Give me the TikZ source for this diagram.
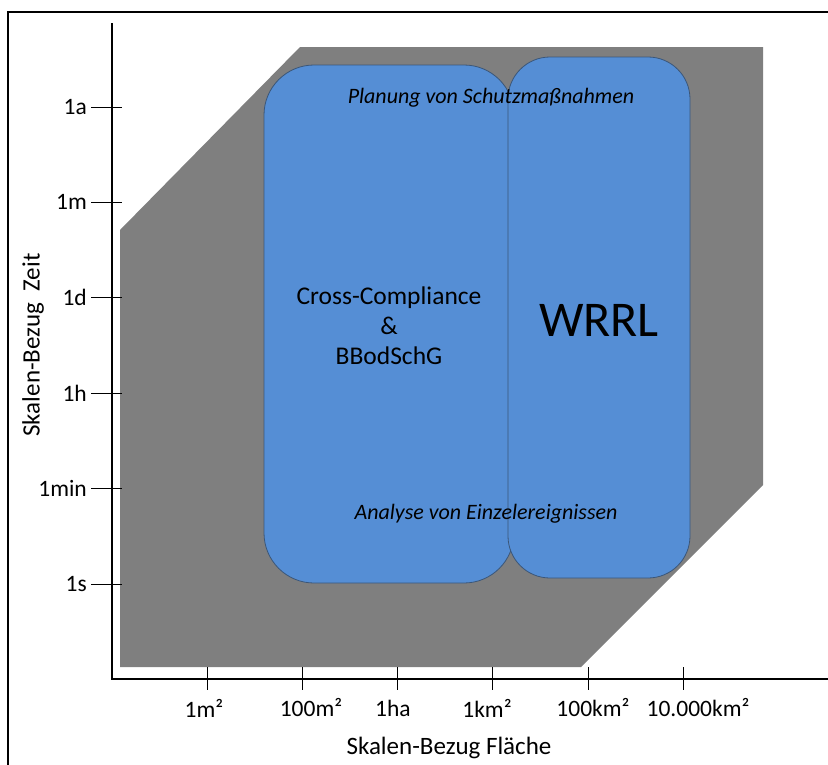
\documentclass[tikz,border=0pt]{standalone}
\usepackage{fontspec}
\setmainfont{Carlito}
\usetikzlibrary{positioning}
\definecolor{areagray}{HTML}{7F7F7F}
\definecolor{lawblue}{HTML}{558ED5}
\definecolor{lawedge}{HTML}{3B5678}
\tikzset{
axis/.style={line width=1.8pt},
axistick/.style={line width=1pt},
ticklabel/.style={font=\fontsize{23.5}{28}\selectfont, inner sep=0pt},
axislabel/.style={font=\fontsize{25}{30}\selectfont, inner sep=0pt},
law/.style={draw=lawedge, line width=0.8pt, fill=lawblue, inner sep=0pt},
scopelabel/.style={font=\fontsize{22}{26}\selectfont\itshape, inner sep=0pt},
}

\begin{document}
\begin{tikzpicture}[x=1pt,y=-1pt]
    \useasboundingbox (0,0) rectangle (828,764);
    % frame
    \draw[line width=1.6pt] (840,12) -- (8,12) -- (8,780);

    % grey range of scales
    \fill[areagray] (120,230) -- (300,47) -- (763,47) -- (763,485) -- (581,667) -- (120,667) -- cycle;

    % the two instruments
    \node[law, rounded corners=50pt, minimum width=250pt, minimum height=518pt] (cc) at (389,324) {};
    \node[law, rounded corners=42pt, minimum width=182pt, minimum height=521pt] (wrrl) at (599,317.5) {};

    \node[align=center, font=\fontsize{25.5}{30}\selectfont] (cctext) at (389,326) {Cross-Compliance\\\&\\BBodSchG};
    \node[font=\fontsize{50}{56}\selectfont] (wrrltext) at (599,320) {WRRL};
    \node[scopelabel] (plan) at (491,98) {Planung von Schutzmaßnahmen};
    \node[scopelabel] (analyse) at (486,514) {Analyse von Einzelereignissen};

    % axes
    \coordinate (origin) at (112,679);
    \coordinate (ytop) at (112,23);
    \coordinate (xend) at (840,679);
    \draw[axis] (ytop) -- (origin) -- (xend);

    \foreach \lab [count=\i from 0] in {1a,1m,1d,1h,1min,1s}{
        \draw[axistick] (91,107+95.4*\i) -- (122,107+95.4*\i);
        \node[ticklabel, anchor=east] at (87,107+95.4*\i) {\lab};
    }
    \foreach \lab/\lx [count=\i from 0] in {1m²/204,100m²/311,1ha/393,1km²/487,100km²/593,10.000km²/698}{
        \draw[axistick] (207+95.3*\i,667) -- (207+95.3*\i,690);
        \node[ticklabel] at (\lx,708) {\lab};
    }

    \node[axislabel] (xlabel) at (449,748) {Skalen-Bezug Fläche};
    \node[axislabel, rotate=90] (ylabel) at (33,345) {Skalen-Bezug\ \ Zeit};
\end{tikzpicture}
\end{document}
